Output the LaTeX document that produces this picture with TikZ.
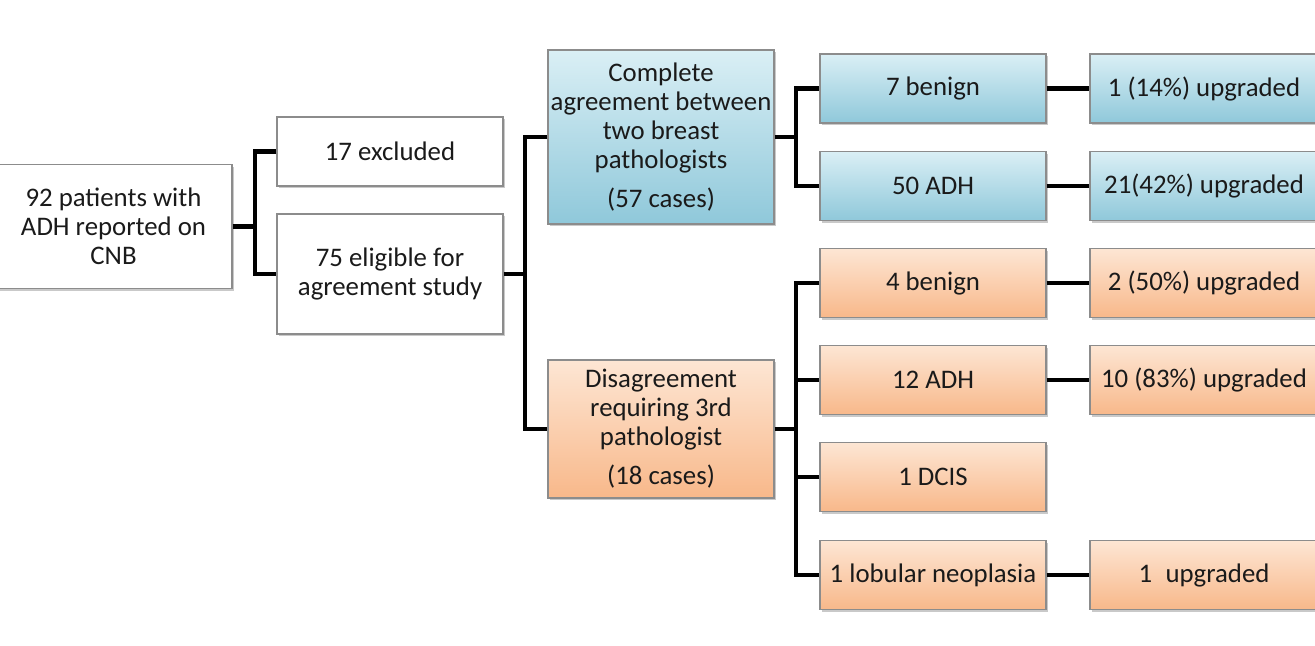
\documentclass[tikz,border=0pt]{standalone}
\usepackage{fontspec}
\setmainfont{Carlito}
\usetikzlibrary{shadows}
\definecolor{txt}{HTML}{1A1A1A}
\definecolor{edge}{HTML}{8C8C8C}
\definecolor{bluetop}{HTML}{DAEFF5}
\definecolor{bluebot}{HTML}{8FC8DA}
\definecolor{orgtop}{HTML}{FDE6D4}
\definecolor{orgbot}{HTML}{F8B88A}
\tikzset{
  box/.style={rectangle, draw=edge, line width=0.6pt, align=center,
    text=txt, font=\fontsize{13.4}{14.5}\selectfont, inner sep=0pt,
    drop shadow={shadow xshift=1.2pt, shadow yshift=-1.2pt, opacity=0.35, fill=black!60}},
  plain/.style={box, fill=white},
  bluebox/.style={box, top color=bluetop, bottom color=bluebot},
  orgbox/.style={box, top color=orgtop, bottom color=orgbot},
  conn/.style={line width=2.1pt, draw=black, line join=miter},
}
\begin{document}
\begin{tikzpicture}[x=0.5pt, y=-0.5pt]
\useasboundingbox (0,0) rectangle (1315,645);
\clip (0,0) rectangle (1315,645);
\fill[white] (0,0) rectangle (1315,645);

% first two levels
\node[plain, minimum width=118.5pt, minimum height=62pt] (start) at (113.5,226.5)
  {92 patients with\\ADH reported on\\CNB};
\node[plain, minimum width=113pt, minimum height=34.5pt] (excl) at (390,151.5) {17 excluded};
\node[plain, minimum width=113pt, minimum height=60pt] (elig) at (390,274)
  {75 eligible for\\agreement study};

% agreement split
\node[bluebox, minimum width=113pt, minimum height=87pt] (agree) at (661,137)
  {Complete\\agreement between\\two breast\\pathologists\\[5pt](57 cases)};
\node[orgbox, minimum width=113pt, minimum height=69pt] (disag) at (661,429)
  {Disagreement\\requiring 3rd\\pathologist\\[5pt](18 cases)};

% diagnoses
\node[bluebox, minimum width=113pt, minimum height=34.5pt] (b7) at (933,88.5) {7 benign};
\node[bluebox, minimum width=113pt, minimum height=34.5pt] (a50) at (933,186) {50 ADH};
\node[orgbox, minimum width=113pt, minimum height=34.5pt] (b4) at (933,283) {4 benign};
\node[orgbox, minimum width=113pt, minimum height=34.5pt] (a12) at (933,380) {12 ADH};
\node[orgbox, minimum width=113pt, minimum height=34.5pt] (dcis) at (933,477) {1 DCIS};
\node[orgbox, minimum width=113pt, minimum height=34.5pt] (lob) at (933,575) {1 lobular neoplasia};

% outcomes
\node[bluebox, minimum width=114pt, minimum height=34.5pt] (u1) at (1204,88.5) {1 (14\%) upgraded};
\node[bluebox, minimum width=114pt, minimum height=34.5pt] (u21) at (1204,186) {21(42\%) upgraded};
\node[orgbox, minimum width=114pt, minimum height=34.5pt] (u2) at (1204,283) {2 (50\%) upgraded};
\node[orgbox, minimum width=114pt, minimum height=34.5pt] (u10) at (1204,380) {10 (83\%) upgraded};
\node[orgbox, minimum width=114pt, minimum height=34.5pt] (ul) at (1204,575) {1\enspace upgraded};

% bracket connectors
\draw[conn] (start.east) -- (255,226.5) coordinate (j1);
\draw[conn] (excl.west) -| (j1) |- (elig.west);

\draw[conn] (elig.east) -- (525,274) coordinate (j2);
\draw[conn] (agree.west) -| (j2) |- (disag.west);

\draw[conn] (agree.east) -- (796,137) coordinate (j3);
\draw[conn] (b7.west) -| (j3) |- (a50.west);

\draw[conn] (disag.east) -- (796,429) coordinate (j4);
\draw[conn] (b4.west) -| (j4) |- (lob.west);
\draw[conn] (a12.west) -- (a12.west -| j4);
\draw[conn] (dcis.west) -- (dcis.west -| j4);

% straight links
\draw[conn] (b7.east) -- (u1.west);
\draw[conn] (a50.east) -- (u21.west);
\draw[conn] (b4.east) -- (u2.west);
\draw[conn] (a12.east) -- (u10.west);
\draw[conn] (lob.east) -- (ul.west);
\end{tikzpicture}
\end{document}
